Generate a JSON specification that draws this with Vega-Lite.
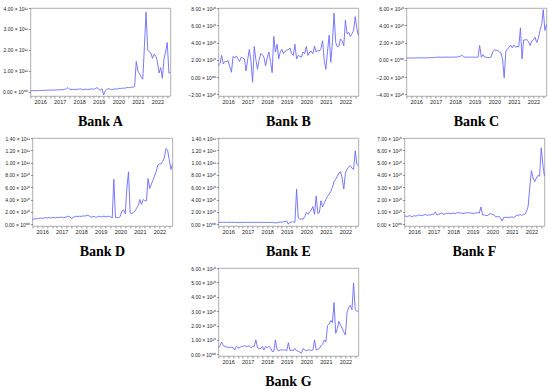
{
"$schema":"https://vega.github.io/schema/vega-lite/v6.json",
"padding":{"left":2,"top":5,"right":2,"bottom":0},
"background":"white",
"data":{"values":[
{"d":"2016-01-01","A":0.05e11,"B":1.3e10,"C":0.2e10,"D":0.8e10,"E":0.3e10,"F":0.65e10,"G":0.45e10},
{"d":"2016-02-01","A":0.05e11,"B":1.6e10,"C":0.2e10,"D":0.85e10,"E":0.3e10,"F":0.65e10,"G":0.6e10},
{"d":"2016-03-01","A":0.06e11,"B":2.5e10,"C":0.2e10,"D":0.9e10,"E":0.28e10,"F":0.6e10,"G":0.85e10},
{"d":"2016-04-01","A":0.05e11,"B":1.5e10,"C":0.2e10,"D":0.85e10,"E":0.3e10,"F":0.7e10,"G":0.6e10},
{"d":"2016-05-01","A":0.06e11,"B":1.8e10,"C":0.22e10,"D":0.95e10,"E":0.3e10,"F":0.65e10,"G":0.55e10},
{"d":"2016-06-01","A":0.06e11,"B":1.8e10,"C":0.2e10,"D":1.0e10,"E":0.28e10,"F":0.6e10,"G":0.5e10},
{"d":"2016-07-01","A":0.07e11,"B":1.9e10,"C":0.22e10,"D":0.95e10,"E":0.3e10,"F":0.7e10,"G":0.5e10},
{"d":"2016-08-01","A":0.06e11,"B":1.2e10,"C":0.22e10,"D":1.0e10,"E":0.3e10,"F":0.65e10,"G":0.45e10},
{"d":"2016-09-01","A":0.07e11,"B":0.55e10,"C":0.22e10,"D":1.05e10,"E":0.28e10,"F":0.7e10,"G":0.5e10},
{"d":"2016-10-01","A":0.08e11,"B":2.4e10,"C":0.22e10,"D":1.0e10,"E":0.3e10,"F":0.75e10,"G":0.45e10},
{"d":"2016-11-01","A":0.07e11,"B":2.2e10,"C":0.22e10,"D":1.1e10,"E":0.3e10,"F":0.7e10,"G":0.3e10},
{"d":"2016-12-01","A":0.08e11,"B":2.45e10,"C":0.22e10,"D":1.0e10,"E":0.25e10,"F":0.7e10,"G":0.55e10},
{"d":"2017-01-01","A":0.08e11,"B":2.1e10,"C":0.22e10,"D":1.05e10,"E":0.28e10,"F":0.75e10,"G":0.45e10},
{"d":"2017-02-01","A":0.07e11,"B":1.8e10,"C":0.22e10,"D":1.1e10,"E":0.27e10,"F":0.8e10,"G":0.45e10},
{"d":"2017-03-01","A":0.09e11,"B":2.3e10,"C":0.25e10,"D":1.0e10,"E":0.28e10,"F":0.7e10,"G":0.55e10},
{"d":"2017-04-01","A":0.08e11,"B":2.2e10,"C":0.25e10,"D":1.1e10,"E":0.27e10,"F":0.75e10,"G":0.55e10},
{"d":"2017-05-01","A":0.09e11,"B":2.1e10,"C":0.25e10,"D":1.05e10,"E":0.3e10,"F":0.75e10,"G":0.6e10},
{"d":"2017-06-01","A":0.1e11,"B":0.7e10,"C":0.25e10,"D":1.1e10,"E":0.28e10,"F":0.8e10,"G":0.55e10},
{"d":"2017-07-01","A":0.09e11,"B":2.0e10,"C":0.28e10,"D":1.15e10,"E":0.27e10,"F":0.8e10,"G":0.55e10},
{"d":"2017-08-01","A":0.1e11,"B":3.2e10,"C":0.3e10,"D":1.05e10,"E":0.3e10,"F":1.0e10,"G":0.6e10},
{"d":"2017-09-01","A":0.1e11,"B":1.8e10,"C":0.3e10,"D":1.1e10,"E":0.25e10,"F":0.75e10,"G":0.45e10},
{"d":"2017-10-01","A":0.12e11,"B":-0.6e10,"C":0.3e10,"D":1.2e10,"E":0.28e10,"F":0.8e10,"G":0.55e10},
{"d":"2017-11-01","A":0.14e11,"B":3.55e10,"C":0.28e10,"D":1.3e10,"E":0.3e10,"F":0.85e10,"G":0.55e10},
{"d":"2017-12-01","A":0.2e11,"B":2.0e10,"C":0.3e10,"D":1.2e10,"E":0.27e10,"F":0.9e10,"G":1.0e10},
{"d":"2018-01-01","A":0.12e11,"B":0.9e10,"C":0.3e10,"D":0.9e10,"E":0.28e10,"F":0.8e10,"G":0.45e10},
{"d":"2018-02-01","A":0.1e11,"B":2.0e10,"C":0.32e10,"D":1.1e10,"E":0.27e10,"F":0.85e10,"G":0.4e10},
{"d":"2018-03-01","A":0.11e11,"B":2.7e10,"C":0.3e10,"D":1.2e10,"E":0.28e10,"F":0.85e10,"G":0.4e10},
{"d":"2018-04-01","A":0.12e11,"B":2.6e10,"C":0.3e10,"D":1.3e10,"E":0.3e10,"F":0.9e10,"G":0.55e10},
{"d":"2018-05-01","A":0.1e11,"B":2.3e10,"C":0.3e10,"D":1.2e10,"E":0.28e10,"F":0.85e10,"G":0.3e10},
{"d":"2018-06-01","A":0.12e11,"B":1.3e10,"C":0.32e10,"D":1.3e10,"E":0.27e10,"F":0.85e10,"G":0.55e10},
{"d":"2018-07-01","A":0.13e11,"B":2.2e10,"C":0.3e10,"D":1.25e10,"E":0.28e10,"F":0.9e10,"G":0.45e10},
{"d":"2018-08-01","A":0.14e11,"B":2.9e10,"C":0.32e10,"D":1.35e10,"E":0.27e10,"F":0.85e10,"G":0.55e10},
{"d":"2018-09-01","A":0.1e11,"B":1.8e10,"C":0.35e10,"D":1.3e10,"E":0.28e10,"F":0.9e10,"G":0.45e10},
{"d":"2018-10-01","A":0.12e11,"B":0.5e10,"C":0.4e10,"D":1.4e10,"E":0.3e10,"F":0.95e10,"G":0.2e10},
{"d":"2018-11-01","A":0.12e11,"B":4.7e10,"C":0.55e10,"D":1.45e10,"E":0.27e10,"F":0.9e10,"G":0.2e10},
{"d":"2018-12-01","A":0.11e11,"B":2.9e10,"C":0.35e10,"D":1.3e10,"E":0.2e10,"F":0.9e10,"G":1.0e10},
{"d":"2019-01-01","A":0.12e11,"B":3.8e10,"C":0.3e10,"D":1.15e10,"E":0.25e10,"F":0.85e10,"G":0.3e10},
{"d":"2019-02-01","A":0.13e11,"B":2.1e10,"C":0.3e10,"D":1.2e10,"E":0.3e10,"F":0.9e10,"G":0.25e10},
{"d":"2019-03-01","A":0.14e11,"B":2.9e10,"C":0.3e10,"D":1.25e10,"E":0.35e10,"F":0.9e10,"G":0.3e10},
{"d":"2019-04-01","A":0.12e11,"B":3.2e10,"C":0.3e10,"D":1.1e10,"E":0.3e10,"F":0.95e10,"G":0.3e10},
{"d":"2019-05-01","A":0.16e11,"B":2.7e10,"C":0.3e10,"D":1.2e10,"E":0.4e10,"F":0.9e10,"G":0.3e10},
{"d":"2019-06-01","A":0.2e11,"B":3.0e10,"C":0.3e10,"D":1.3e10,"E":0.45e10,"F":0.9e10,"G":0.3e10},
{"d":"2019-07-01","A":0.12e11,"B":3.1e10,"C":0.3e10,"D":1.2e10,"E":0.5e10,"F":0.85e10,"G":0.25e10},
{"d":"2019-08-01","A":0.08e11,"B":3.2e10,"C":0.3e10,"D":1.25e10,"E":0.0,"F":0.9e10,"G":0.8e10},
{"d":"2019-09-01","A":0.15e11,"B":3.35e10,"C":0.3e10,"D":1.3e10,"E":0.3e10,"F":0.9e10,"G":0.25e10},
{"d":"2019-10-01","A":-0.15e11,"B":2.7e10,"C":1.65e10,"D":1.2e10,"E":0.35e10,"F":0.95e10,"G":0.3e10},
{"d":"2019-11-01","A":0.05e11,"B":2.5e10,"C":0.3e10,"D":1.25e10,"E":0.4e10,"F":0.9e10,"G":0.25e10},
{"d":"2019-12-01","A":0.12e11,"B":3.8e10,"C":0.6e10,"D":1.3e10,"E":0.3e10,"F":1.4e10,"G":0.4e10},
{"d":"2020-01-01","A":0.15e11,"B":2.1e10,"C":0.3e10,"D":1.2e10,"E":5.7e10,"F":0.75e10,"G":0.25e10},
{"d":"2020-02-01","A":0.12e11,"B":2.5e10,"C":0.3e10,"D":1.0e10,"E":1.0e10,"F":0.75e10,"G":0.2e10},
{"d":"2020-03-01","A":0.1e11,"B":2.4e10,"C":0.25e10,"D":7.3e10,"E":0.8e10,"F":0.7e10,"G":0.15e10},
{"d":"2020-04-01","A":0.12e11,"B":2.3e10,"C":0.25e10,"D":1.1e10,"E":0.9e10,"F":0.7e10,"G":0.07e10},
{"d":"2020-05-01","A":0.14e11,"B":2.9e10,"C":0.3e10,"D":1.1e10,"E":0.8e10,"F":0.8e10,"G":0.4e10},
{"d":"2020-06-01","A":0.13e11,"B":2.7e10,"C":0.9e10,"D":1.0e10,"E":1.2e10,"F":0.85e10,"G":0.3e10},
{"d":"2020-07-01","A":0.15e11,"B":3.55e10,"C":1.15e10,"D":1.3e10,"E":1.9e10,"F":0.8e10,"G":0.25e10},
{"d":"2020-08-01","A":0.17e11,"B":2.5e10,"C":1.1e10,"D":2.15e10,"E":1.6e10,"F":0.75e10,"G":0.3e10},
{"d":"2020-09-01","A":0.16e11,"B":2.9e10,"C":1.1e10,"D":2.3e10,"E":2.0e10,"F":0.6e10,"G":0.3e10},
{"d":"2020-10-01","A":0.18e11,"B":3.0e10,"C":0.9e10,"D":1.7e10,"E":2.3e10,"F":0.6e10,"G":0.25e10},
{"d":"2020-11-01","A":0.17e11,"B":2.7e10,"C":0.8e10,"D":5.9e10,"E":2.85e10,"F":0.65e10,"G":0.3e10},
{"d":"2020-12-01","A":0.2e11,"B":3.6e10,"C":0.1e10,"D":8.5e10,"E":1.6e10,"F":0.5e10,"G":1.0e10},
{"d":"2021-01-01","A":0.2e11,"B":2.9e10,"C":-2.1e10,"D":1.8e10,"E":4.6e10,"F":0.25e10,"G":0.3e10},
{"d":"2021-02-01","A":0.2e11,"B":3.1e10,"C":1.0e10,"D":1.7e10,"E":1.75e10,"F":0.55e10,"G":0.35e10},
{"d":"2021-03-01","A":0.22e11,"B":3.0e10,"C":1.25e10,"D":1.9e10,"E":1.85e10,"F":0.55e10,"G":0.4e10},
{"d":"2021-04-01","A":0.22e11,"B":3.3e10,"C":1.4e10,"D":2.15e10,"E":3.8e10,"F":0.55e10,"G":0.6e10},
{"d":"2021-05-01","A":0.25e11,"B":4.2e10,"C":1.7e10,"D":2.6e10,"E":2.8e10,"F":0.55e10,"G":0.7e10},
{"d":"2021-06-01","A":1.45e11,"B":1.9e10,"C":1.4e10,"D":3.0e10,"E":3.4e10,"F":0.55e10,"G":1.0e10},
{"d":"2021-07-01","A":1.0e11,"B":0.9e10,"C":1.7e10,"D":4.0e10,"E":4.0e10,"F":0.6e10,"G":0.85e10},
{"d":"2021-08-01","A":0.85e11,"B":3.0e10,"C":1.45e10,"D":3.2e10,"E":4.5e10,"F":0.55e10,"G":2.0e10},
{"d":"2021-09-01","A":0.7e11,"B":4.85e10,"C":1.55e10,"D":4.0e10,"E":4.9e10,"F":0.6e10,"G":2.1e10},
{"d":"2021-10-01","A":0.6e11,"B":1.7e10,"C":1.5e10,"D":3.8e10,"E":5.3e10,"F":0.75e10,"G":2.35e10},
{"d":"2021-11-01","A":2.2e11,"B":4.0e10,"C":3.7e10,"D":3.8e10,"E":6.0e10,"F":0.7e10,"G":2.2e10},
{"d":"2021-12-01","A":3.8e11,"B":7.4e10,"C":0.1e10,"D":7.4e10,"E":6.9e10,"F":0.8e10,"G":3.6e10},
{"d":"2022-01-01","A":2.0e11,"B":4.0e10,"C":2.3e10,"D":5.8e10,"E":7.3e10,"F":0.7e10,"G":1.45e10},
{"d":"2022-02-01","A":1.9e11,"B":3.5e10,"C":2.3e10,"D":6.5e10,"E":7.8e10,"F":0.8e10,"G":1.8e10},
{"d":"2022-03-01","A":1.85e11,"B":3.6e10,"C":2.35e10,"D":7.1e10,"E":8.3e10,"F":0.8e10,"G":2.3e10},
{"d":"2022-04-01","A":1.6e11,"B":4.4e10,"C":2.1e10,"D":7.8e10,"E":8.5e10,"F":1.05e10,"G":2.05e10},
{"d":"2022-05-01","A":1.8e11,"B":4.2e10,"C":1.65e10,"D":8.5e10,"E":7.5e10,"F":1.45e10,"G":1.8e10},
{"d":"2022-06-01","A":1.7e11,"B":3.6e10,"C":2.2e10,"D":9.6e10,"E":5.7e10,"F":3.0e10,"G":1.55e10},
{"d":"2022-07-01","A":1.45e11,"B":6.6e10,"C":2.3e10,"D":9.8e10,"E":8.3e10,"F":4.35e10,"G":1.35e10},
{"d":"2022-08-01","A":0.9e11,"B":5.0e10,"C":2.6e10,"D":9.8e10,"E":8.9e10,"F":3.75e10,"G":2.9e10},
{"d":"2022-09-01","A":1.15e11,"B":5.2e10,"C":2.0e10,"D":10.2e10,"E":9.3e10,"F":3.45e10,"G":3.25e10},
{"d":"2022-10-01","A":0.65e11,"B":4.7e10,"C":2.5e10,"D":10.8e10,"E":9.5e10,"F":3.75e10,"G":3.4e10},
{"d":"2022-11-01","A":1.55e11,"B":5.0e10,"C":3.4e10,"D":12.3e10,"E":9.1e10,"F":3.95e10,"G":3.1e10},
{"d":"2022-12-01","A":1.9e11,"B":5.4e10,"C":4.0e10,"D":12.0e10,"E":8.9e10,"F":3.9e10,"G":4.95e10},
{"d":"2023-01-01","A":2.35e11,"B":7.0e10,"C":5.8e10,"D":10.5e10,"E":11.9e10,"F":6.2e10,"G":3.1e10},
{"d":"2023-02-01","A":0.9e11,"B":5.6e10,"C":3.4e10,"D":8.9e10,"E":9.7e10,"F":4.8e10,"G":3.0e10},
{"d":"2023-03-01","A":0.92e11,"B":4.8e10,"C":4.1e10,"D":9.7e10,"E":9.5e10,"F":3.9e10,"G":3.0e10}
]},
"config":{
 "view":{"stroke":"#9a9a9a","strokeWidth":0.8},
 "axis":{"domain":false,"grid":false,"tickColor":"#555","tickSize":2,"tickWidth":0.6,"labelFont":"Liberation Sans","labelColor":"#222","labelFontSize":5,"labelPadding":1,"title":null},
 "axisY":{"labelExpr":"datum.value == 0 ? '0.00 × 10⁰⁰' : format(datum.value / pow(10, floor(log(abs(datum.value)) / LN10 + 1e-9)), '.2f') + ' × 10' + (floor(log(abs(datum.value)) / LN10 + 1e-9) >= 11 ? '¹¹' : '¹⁰')"},
 "axisX":{"tickCount":{"interval":"month","step":3},"labelExpr":"utcmonth(datum.value) == 6 ? utcFormat(datum.value, '%Y') : ''","labelOverlap":false,"labelFontSize":5.5,"labelBound":false},
 "line":{"color":"#6a6aff","strokeWidth":0.9},
 "title":{"orient":"bottom","font":"Liberation Serif","fontSize":14,"fontWeight":"bold","color":"#000","offset":10}
},
"vconcat":[
 {"hconcat":[
  {"width":140,"height":88,"title":"Bank A","mark":"line","encoding":{
   "x":{"field":"d","type":"temporal","scale":{"type":"utc","domain":[{"year":2016,"month":1,"date":1,"utc":true},{"year":2023,"month":3,"date":1,"utc":true}]}},
   "y":{"field":"A","type":"quantitative","scale":{"domain":[-0.2e11,4e11],"nice":false,"zero":false},"axis":{"values":[0,1e11,2e11,3e11,4e11]}}}},
  {"width":140,"height":88,"title":"Bank B","mark":"line","encoding":{
   "x":{"field":"d","type":"temporal","scale":{"type":"utc","domain":[{"year":2016,"month":1,"date":1,"utc":true},{"year":2023,"month":3,"date":1,"utc":true}]}},
   "y":{"field":"B","type":"quantitative","scale":{"domain":[-2.2e10,8e10],"nice":false,"zero":false},"axis":{"values":[-2e10,0,2e10,4e10,6e10,8e10]}}}},
  {"width":140,"height":88,"title":"Bank C","mark":"line","encoding":{
   "x":{"field":"d","type":"temporal","scale":{"type":"utc","domain":[{"year":2016,"month":1,"date":1,"utc":true},{"year":2023,"month":3,"date":1,"utc":true}]}},
   "y":{"field":"C","type":"quantitative","scale":{"domain":[-4.2e10,6e10],"nice":false,"zero":false},"axis":{"values":[-4e10,-2e10,0,2e10,4e10,6e10]}}}}
 ],"spacing":14},
 {"hconcat":[
  {"width":140,"height":88,"title":"Bank D","mark":"line","encoding":{
   "x":{"field":"d","type":"temporal","scale":{"type":"utc","domain":[{"year":2016,"month":1,"date":1,"utc":true},{"year":2023,"month":3,"date":1,"utc":true}]}},
   "y":{"field":"D","type":"quantitative","scale":{"domain":[-0.3e10,14e10],"nice":false,"zero":false},"axis":{"values":[0,2e10,4e10,6e10,8e10,10e10,12e10,14e10]}}}},
  {"width":140,"height":88,"title":"Bank E","mark":"line","encoding":{
   "x":{"field":"d","type":"temporal","scale":{"type":"utc","domain":[{"year":2016,"month":1,"date":1,"utc":true},{"year":2023,"month":3,"date":1,"utc":true}]}},
   "y":{"field":"E","type":"quantitative","scale":{"domain":[-0.3e10,14e10],"nice":false,"zero":false},"axis":{"values":[0,2e10,4e10,6e10,8e10,10e10,12e10,14e10]}}}},
  {"width":140,"height":88,"title":"Bank F","mark":"line","encoding":{
   "x":{"field":"d","type":"temporal","scale":{"type":"utc","domain":[{"year":2016,"month":1,"date":1,"utc":true},{"year":2023,"month":3,"date":1,"utc":true}]}},
   "y":{"field":"F","type":"quantitative","scale":{"domain":[-0.15e10,7e10],"nice":false,"zero":false},"axis":{"values":[0,1e10,2e10,3e10,4e10,5e10,6e10,7e10]}}}}
 ],"spacing":14},
 {"hconcat":[
  {"width":140,"height":88,"title":"Bank G","mark":"line","encoding":{
   "x":{"field":"d","type":"temporal","scale":{"type":"utc","domain":[{"year":2016,"month":1,"date":1,"utc":true},{"year":2023,"month":3,"date":1,"utc":true}]}},
   "y":{"field":"G","type":"quantitative","scale":{"domain":[-0.12e10,6e10],"nice":false,"zero":false},"axis":{"values":[0,1e10,2e10,3e10,4e10,5e10,6e10]}}}}
 ]}
],
"spacing":6,
"center":true
}
